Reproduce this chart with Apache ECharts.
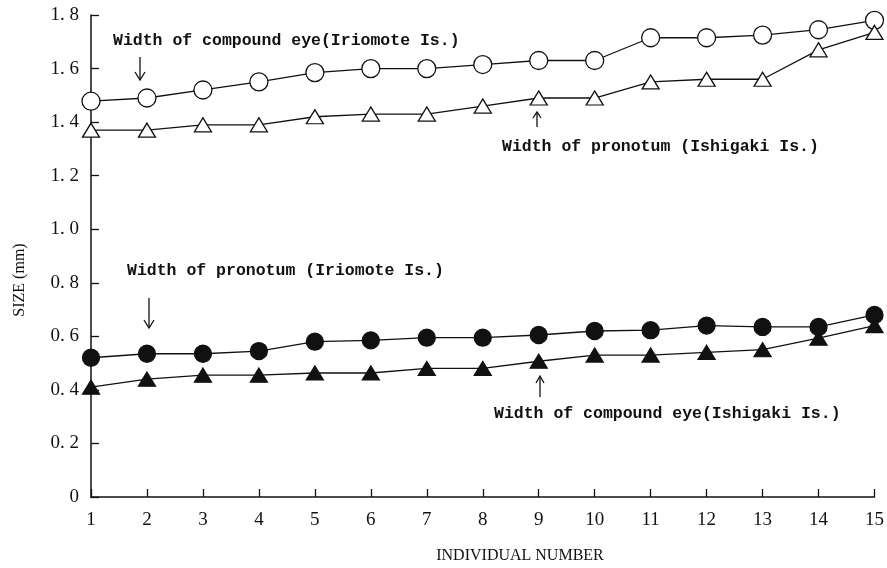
<!DOCTYPE html>
<html><head><meta charset="utf-8">
<script src="https://cdn.jsdelivr.net/npm/echarts@6/dist/echarts.min.js"></script>
<style>html,body{margin:0;padding:0;background:#fff}#c{width:887px;height:568px}</style>
</head><body><div id="c"></div>
<script>
const individuals = [1,2,3,4,5,6,7,8,9,10,11,12,13,14,15];
const eyeIriomote = [1.478,1.49,1.52,1.55,1.585,1.60,1.60,1.615,1.63,1.63,1.715,1.715,1.725,1.745,1.78];
const pronotumIshigaki = [1.37,1.37,1.39,1.39,1.42,1.43,1.43,1.46,1.49,1.49,1.55,1.56,1.56,1.67,1.735];
const pronotumIriomote = [0.52,0.535,0.535,0.545,0.58,0.585,0.595,0.595,0.605,0.62,0.623,0.64,0.635,0.635,0.68];
const eyeIshigaki = [0.41,0.44,0.455,0.455,0.463,0.463,0.48,0.48,0.507,0.53,0.53,0.54,0.55,0.593,0.64];
const xTitle = 'INDIVIDUAL NUMBER';
const yTitle = 'SIZE (mm)';

const pairs = arr => individuals.map((x,i)=>[x,arr[i]]);
const chart = echarts.init(document.getElementById('c'));
const tickFont = {fontFamily:'Liberation Serif', fontSize:19, color:'#111'};
const annFont = {fontFamily:'Liberation Mono', fontSize:16.5, fill:'#111', fontWeight:'bold'};
function ser(name, data, symbol, size, filled){
  return {name, type:'line', data:pairs(data), symbol, symbolSize:size, showSymbol:true,
    lineStyle:{color:'#111', width:1.3},
    itemStyle:{color: filled?'#111':'#fff', borderColor:'#111', borderWidth:1.3},
    z: filled?3:4, animation:false};
}
chart.setOption({
  animation:false,
  grid:{left:91, right:10, top:15, bottom:71, containLabel:false},
  xAxis:{type:'value', min:1, max:15, interval:1,
    axisLine:{lineStyle:{color:'#111', width:1.5}},
    axisTick:{inside:true, length:8, lineStyle:{color:'#111', width:1.3}},
    axisLabel:Object.assign({margin:14}, tickFont),
    splitLine:{show:false}},
  yAxis:{type:'value', min:0, max:1.8, interval:0.2,
    axisLine:{show:true, lineStyle:{color:'#111', width:1.5}},
    axisTick:{show:true, inside:true, length:8, lineStyle:{color:'#111', width:1.3}},
    axisLabel:Object.assign({margin:12, formatter:v=> v===0?'0':v.toFixed(1).replace('.', '. ')}, tickFont),
    splitLine:{show:false}},
  series:[
    ser('Width of compound eye (Iriomote Is.)', eyeIriomote, 'circle', 18, false),
    ser('Width of pronotum (Ishigaki Is.)', pronotumIshigaki, 'triangle', [17,14], false),
    ser('Width of pronotum (Iriomote Is.)', pronotumIriomote, 'circle', 17, true),
    ser('Width of compound eye (Ishigaki Is.)', eyeIshigaki, 'triangle', [17,14], true)
  ],
  graphic:[
    {type:'text', x:520, y:556, style:{text:xTitle, fontFamily:'Liberation Serif', fontSize:16, fill:'#111', align:'center', verticalAlign:'middle'}},
    {type:'text', x:20, y:280, rotation:Math.PI/2, style:{text:yTitle, fontFamily:'Liberation Serif', fontSize:16, fill:'#111', align:'center', verticalAlign:'middle'}},
    {type:'text', left:113, top:32, style:Object.assign({text:'Width of compound eye(Iriomote Is.)'}, annFont)},
    {type:'text', left:502, top:138, style:Object.assign({text:'Width of pronotum (Ishigaki Is.)'}, annFont)},
    {type:'text', left:127, top:262, style:Object.assign({text:'Width of pronotum (Iriomote Is.)'}, annFont)},
    {type:'text', left:494, top:405, style:Object.assign({text:'Width of compound eye(Ishigaki Is.)'}, annFont)},
    {type:'line', shape:{x1:140,y1:57,x2:140,y2:79}, style:{stroke:'#111', lineWidth:1.3}},
    {type:'polyline', shape:{points:[[135,72],[140,80],[145,72]]}, style:{stroke:'#111', lineWidth:1.3, fill:null}},
    {type:'line', shape:{x1:149,y1:298,x2:149,y2:327}, style:{stroke:'#111', lineWidth:1.3}},
    {type:'polyline', shape:{points:[[144,320],[149,328],[154,320]]}, style:{stroke:'#111', lineWidth:1.3, fill:null}},
    {type:'line', shape:{x1:537,y1:113,x2:537,y2:127}, style:{stroke:'#111', lineWidth:1.3}},
    {type:'polyline', shape:{points:[[533,118],[537,112],[541,118]]}, style:{stroke:'#111', lineWidth:1.3, fill:null}},
    {type:'line', shape:{x1:540,y1:377,x2:540,y2:397}, style:{stroke:'#111', lineWidth:1.3}},
    {type:'polyline', shape:{points:[[536,383],[540,376],[544,383]]}, style:{stroke:'#111', lineWidth:1.3, fill:null}}
  ]
});
</script></body></html>
